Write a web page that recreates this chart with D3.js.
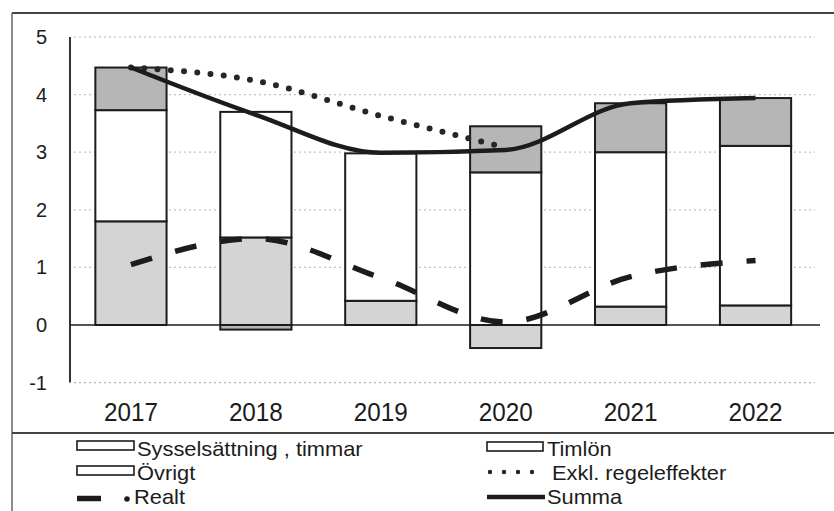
<!DOCTYPE html>
<html><head><meta charset="utf-8">
<script src="https://cdn.jsdelivr.net/npm/d3@7"></script>
<style>
html,body{margin:0;padding:0;background:#fff;}
svg{display:block;font-family:"Liberation Sans",Arial,Helvetica,sans-serif;}
</style></head><body>
<svg id="chart" width="834" height="511"></svg>
<script>
// Lönesummans bidrag per år (procentenheter)
const years = ["2017", "2018", "2019", "2020", "2021", "2022"];
const sysselsattning = [1.80, 1.52, 0.42, -0.40, 0.32, 0.34];
const timlon = [1.93, 2.18, 2.56, 2.65, 2.68, 2.77];
const ovrigt = [0.74, -0.08, 0.00, 0.80, 0.85, 0.83];
const summa = [4.47, 3.65, 2.99, 3.04, 3.85, 3.94];
const exklRegeleffekter = [4.47, 4.24, 3.63, 3.08, null, null];
const realt = [1.05, 1.50, 0.82, 0.05, 0.84, 1.12];
const yTicks = [-1, 0, 1, 2, 3, 4, 5];

const ink = "#1c1c1c";
const fills = { syss: "#d4d4d4", timlon: "#ffffff", ovrigt: "#b6b6b6" };

const svg = d3.select("#chart");

// frame around the chart and the legend
svg.append("line").attr("x1", 12).attr("x2", 834).attr("y1", 13).attr("y2", 13)
  .attr("stroke", "#444").attr("stroke-width", 2);
svg.append("line").attr("x1", 12).attr("x2", 12).attr("y1", 13).attr("y2", 511)
  .attr("stroke", "#666").attr("stroke-width", 1.5);
svg.append("line").attr("x1", 12).attr("x2", 834).attr("y1", 433).attr("y2", 433)
  .attr("stroke", "#444").attr("stroke-width", 2);

const x = d3.scaleBand().domain(years).range([68.5, 818])
  .paddingInner(0.43).paddingOuter(0.215);
const y = d3.scaleLinear().domain([-1, 5]).range([382.6, 37]);
const cx = d => x(d) + x.bandwidth() / 2;

// dotted gridlines
svg.append("g").selectAll("line").data(yTicks.filter(t => t !== 0)).join("line")
  .attr("x1", 74).attr("x2", 815)
  .attr("y1", d => y(d)).attr("y2", d => y(d))
  .attr("stroke", "#9a9a9a").attr("stroke-width", 1.2)
  .attr("stroke-dasharray", "2,3")
  .attr("opacity", d => (d === -1 || d === 5) ? 0.75 : 0.6);

// y axis
const yAxis = svg.append("g").attr("transform", "translate(70,0)")
  .call(d3.axisLeft(y).tickValues(yTicks).tickSize(0).tickPadding(23).tickFormat(d => String(d)));
yAxis.select(".domain").attr("stroke", "#333").attr("stroke-width", 2)
  .attr("d", `M0,${y(5)}V${y(-1)}`);
yAxis.selectAll("text").attr("font-size", 20).attr("fill", ink)
  .attr("font-family", "Liberation Sans, Arial, sans-serif");

// stacked bars
const rows = years.map((yr, i) => ({ year: yr, syss: sysselsattning[i], timlon: timlon[i], ovrigt: ovrigt[i] }));
const keys = ["syss", "timlon", "ovrigt"];
const stacked = d3.stack().keys(keys).offset(d3.stackOffsetDiverging)(rows);

svg.append("g").selectAll("g").data(stacked).join("g")
  .attr("fill", d => fills[d.key])
  .selectAll("rect").data(d => d.filter(s => s[1] !== s[0])).join("rect")
  .attr("x", d => x(d.data.year))
  .attr("width", x.bandwidth())
  .attr("y", d => y(Math.max(d[0], d[1])))
  .attr("height", d => Math.abs(y(d[0]) - y(d[1])))
  .attr("stroke", ink).attr("stroke-width", 2);

// zero line
svg.append("line").attr("x1", 70).attr("x2", 820).attr("y1", y(0)).attr("y2", y(0))
  .attr("stroke", ink).attr("stroke-width", 1.6);

// x axis labels
const xAxis = svg.append("g").attr("transform", `translate(0,${y(-1)})`)
  .call(d3.axisBottom(x).tickSize(0).tickPadding(0));
xAxis.select(".domain").remove();
xAxis.selectAll(".tick text").attr("dy", null).attr("y", 38)
  .attr("font-size", 25).attr("fill", ink)
  .attr("font-family", "Liberation Sans, Arial, sans-serif")
  .attr("textLength", 54).attr("lengthAdjust", "spacingAndGlyphs");

// lines
const line = d3.line()
  .x(d => cx(d.year)).y(d => y(d.v)).curve(d3.curveMonotoneX);
const series = arr => years.map((yr, i) => ({ year: yr, v: arr[i] })).filter(d => d.v !== null);

svg.append("path").datum(series(realt)).attr("d", line)
  .attr("fill", "none").attr("stroke", ink).attr("stroke-width", 5.5)
  .attr("stroke-dasharray", "22,24");
svg.append("path").datum(series(exklRegeleffekter)).attr("d", line)
  .attr("fill", "none").attr("stroke", "#262626").attr("stroke-width", 6)
  .attr("stroke-linecap", "round").attr("stroke-dasharray", "0,13.3");
svg.append("path").datum(series(summa)).attr("d", line)
  .attr("fill", "none").attr("stroke", ink).attr("stroke-width", 4.5)
  .attr("stroke-linejoin", "round");

// legend
const lg = svg.append("g").attr("fill", ink);
const legendText = (tx, ty, label) => lg.append("text")
  .attr("transform", `translate(${tx},${ty}) scale(1.04,1)`)
  .attr("font-size", 21).text(label);
const swatch = (x0, x1, y0) => lg.append("rect")
  .attr("x", x0).attr("y", y0).attr("width", x1 - x0).attr("height", 9)
  .attr("fill", "#fdfdfd").attr("stroke", ink).attr("stroke-width", 1.6);

swatch(77, 134, 441); legendText(137, 456, "Sysselsättning , timmar");
swatch(487, 543, 442); legendText(547, 456, "Timlön");
swatch(77, 134, 466); legendText(137, 480, "Övrigt");
lg.append("line").attr("x1", 490).attr("x2", 533).attr("y1", 472).attr("y2", 472)
  .attr("stroke", "#262626").attr("stroke-width", 4.5).attr("stroke-linecap", "round")
  .attr("stroke-dasharray", "0,14");
legendText(552, 480, "Exkl. regeleffekter");
lg.append("line").attr("x1", 77).attr("x2", 101).attr("y1", 498.5).attr("y2", 498.5)
  .attr("stroke", ink).attr("stroke-width", 5.5);
lg.append("circle").attr("cx", 127).attr("cy", 499).attr("r", 2.8);
legendText(134, 504, "Realt");
lg.append("line").attr("x1", 487).attr("x2", 545).attr("y1", 497).attr("y2", 497)
  .attr("stroke", ink).attr("stroke-width", 4.5);
legendText(547, 504, "Summa");
</script>
</body></html>
